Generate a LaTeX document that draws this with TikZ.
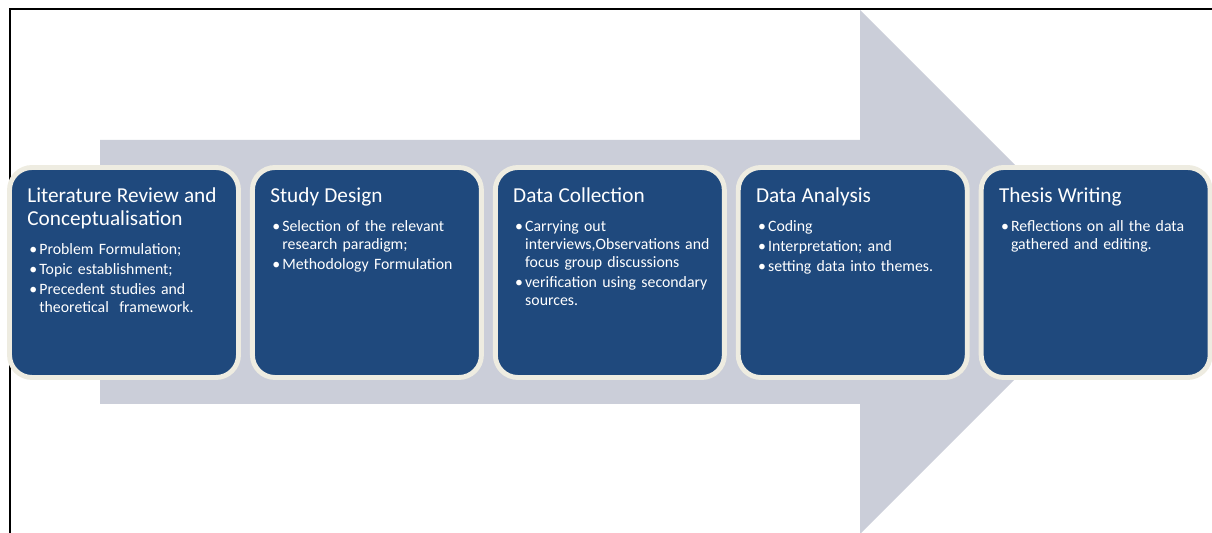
\documentclass[tikz,border=0pt]{standalone}
\usepackage{fontspec}
\setmainfont{Carlito}
\usetikzlibrary{positioning}

\definecolor{stageblue}{RGB}{31,73,125}
\definecolor{stagerim}{RGB}{238,236,225}
\definecolor{arrowgrey}{RGB}{203,206,217}

% heading of a stage, then the bullet lines below it
\newcommand{\stagetitle}[1]{{\fontsize{12.1}{13.1}\selectfont #1\par}\vspace{5.2pt}}
\newcommand{\bitem}[1]{\vspace{1.1pt}\hangindent=0.24cm\hangafter=1\noindent
  \hspace*{0.04cm}\makebox[0.2cm][l]{\textbullet}#1\par}

\begin{document}
\begin{tikzpicture}[
  stage/.style={draw=stagerim,fill=stageblue,line width=2.8pt,rounded corners=0.45cm,
    minimum width=4.58cm,minimum height=4.2cm},
  txt/.style={anchor=north west,inner sep=0pt,text width=4.3cm,align=left,text=white,
    font=\fontsize{9}{10.24}\selectfont,xshift=0.4cm,yshift=-0.44cm}]
\useasboundingbox (0,0) rectangle (24.24,10.66);
% big arrow behind the stages
\fill[arrowgrey] (2,2.58) -- (2,7.86) -- (17.2,7.86) -- (17.2,10.46) -- (22.44,5.22)
  -- (17.2,-0.02) -- (17.2,2.58) -- cycle;
\draw[line width=1.3pt] (0.2,-0.1) -- (0.2,10.48) -- (24.4,10.48);

\node[stage] (lit) at (2.48,5.21) {};
\node[stage,right=0.18cm of lit] (design) {};
\node[stage,right=0.18cm of design] (collect) {};
\node[stage,right=0.18cm of collect] (analysis) {};
\node[stage,right=0.18cm of analysis] (writing) {};

\node[txt] (lit-t) at (lit.north west) {\stagetitle{Literature Review and\\Conceptualisation}%
  \bitem{Problem Formulation;}\bitem{Topic establishment;}%
  \bitem{Precedent studies and\newline theoretical~ framework.}};
\node[txt] (design-t) at (design.north west) {\stagetitle{Study Design}%
  \bitem{Selection of the relevant\newline research paradigm;}\bitem{Methodology Formulation}};
\node[txt] (collect-t) at (collect.north west) {\stagetitle{Data Collection}%
  \bitem{Carrying out\newline interviews,Observations and\newline focus group discussions}%
  \bitem{verification using secondary\newline sources.}};
\node[txt] (analysis-t) at (analysis.north west) {\stagetitle{Data Analysis}%
  \bitem{Coding}\bitem{Interpretation; and}\bitem{setting data into themes.}};
\node[txt] (writing-t) at (writing.north west) {\stagetitle{Thesis Writing}%
  \bitem{Reflections on all the data\newline gathered and editing.}};
\end{tikzpicture}
\end{document}
